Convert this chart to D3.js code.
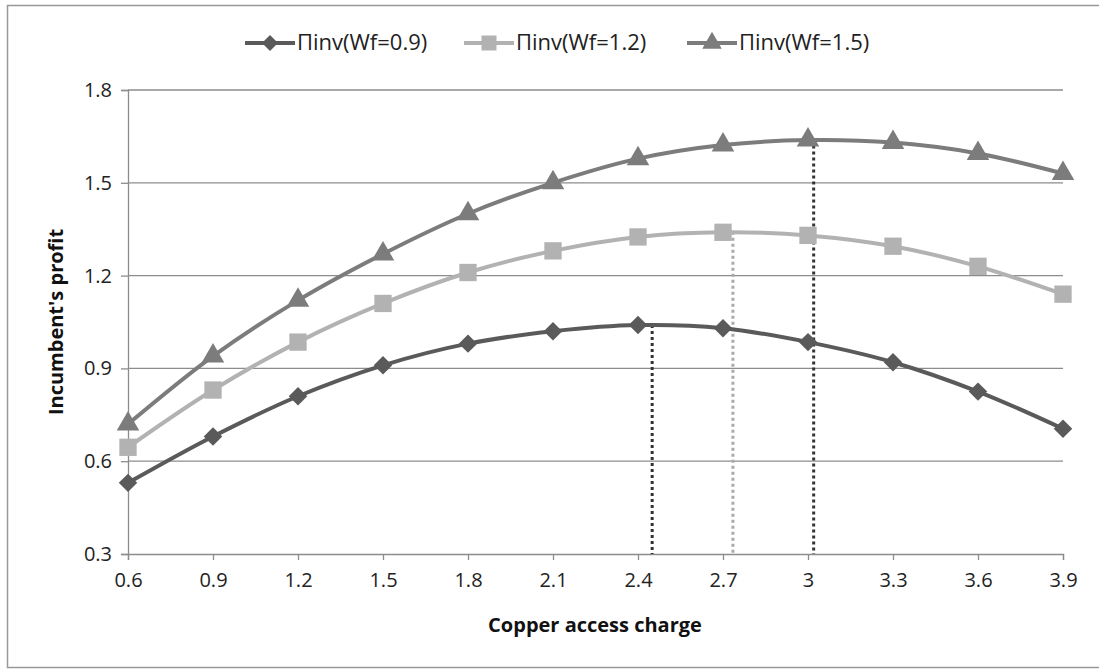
<!DOCTYPE html>
<html><head><meta charset="utf-8">
<script src="https://cdn.jsdelivr.net/npm/d3@7"></script>
<style>body{margin:0;background:#fff;} text{font-family:"Open Sans","Liberation Sans",sans-serif;}</style>
</head><body><svg id="c" width="1099" height="670"></svg>
<script>
const categories = [0.6,0.9,1.2,1.5,1.8,2.1,2.4,2.7,3,3.3,3.6,3.9];
const seriesNames = ["Пinv(Wf=0.9)","Пinv(Wf=1.2)","Пinv(Wf=1.5)"];
const wf09 = [0.53,0.68,0.81,0.91,0.98,1.02,1.04,1.03,0.985,0.92,0.825,0.705];
const wf12 = [0.645,0.83,0.985,1.11,1.21,1.28,1.325,1.34,1.33,1.295,1.23,1.14];
const wf15 = [0.72,0.94,1.12,1.27,1.40,1.50,1.578,1.622,1.638,1.63,1.595,1.53];
const optimaX = [2.45,2.735,3.02];
const optimaY = [1.04,1.342,1.64];
const yTicks = [0.3,0.6,0.9,1.2,1.5,1.8];

const svg = d3.select("#c");
svg.append("rect").attr("x",7.5).attr("y",5.5).attr("width",1100).attr("height",662)
  .attr("fill","#fff").attr("stroke","#999").attr("stroke-width",1.5);

const x = d3.scaleLinear().domain([0.6,3.9]).range([128,1063]);
const y = d3.scaleLinear().domain([0.3,1.8]).range([554,90]);

// gridlines
svg.append("g").selectAll("line").data(yTicks.slice(1)).join("line")
  .attr("x1",128).attr("x2",1063).attr("y1",d=>y(d)).attr("y2",d=>y(d))
  .attr("stroke","#8c8c8c").attr("stroke-width",1.3);

// y axis
const ya = svg.append("g").attr("transform","translate(128,0)")
  .call(d3.axisLeft(y).tickValues(yTicks).tickSize(7).tickPadding(9).tickFormat(d3.format(".1f")));
ya.select(".domain").attr("stroke","#8c8c8c").attr("stroke-width",1.3);
ya.selectAll(".tick line").attr("stroke","#8c8c8c").attr("stroke-width",1.3);
ya.selectAll("text").attr("font-size",20).attr("fill","#222");

// x axis
const xa = svg.append("g").attr("transform","translate(0,554)")
  .call(d3.axisBottom(x).tickValues(categories).tickSize(6).tickPadding(13).tickFormat(d=>String(d)));
xa.select(".domain").attr("stroke","#8c8c8c").attr("stroke-width",1.3);
xa.selectAll(".tick line").attr("stroke","#8c8c8c").attr("stroke-width",1.3);
xa.selectAll("text").attr("font-size",20).attr("fill","#222");

// dotted optimum lines
const dotColors = ["#333","#aaa","#333"];
svg.append("g").selectAll("line").data(optimaX).join("line")
  .attr("x1",d=>x(d)).attr("x2",d=>x(d)).attr("y1",(d,i)=>y(optimaY[i])).attr("y2",y(0.3))
  .attr("stroke",(d,i)=>dotColors[i]).attr("stroke-width",3).attr("stroke-dasharray","3,3");

const series = [
  {name:seriesNames[0], vals:wf09, color:"#5a5a5a", sym:d3.symbolSquare, size:170, rot:45},
  {name:seriesNames[1], vals:wf12, color:"#b2b2b2", sym:d3.symbolSquare, size:300, rot:0},
  {name:seriesNames[2], vals:wf15, color:"#7c7c7c", sym:d3.symbolTriangle, size:220, rot:0}
];
const line = d3.line().x((d,i)=>x(categories[i])).y(d=>y(d)).curve(d3.curveCatmullRom.alpha(0.5));
series.forEach(s=>{
  svg.append("path").attr("d",line(s.vals)).attr("fill","none").attr("stroke",s.color).attr("stroke-width",4);
  svg.append("g").selectAll("path").data(s.vals).join("path")
    .attr("d",d3.symbol().type(s.sym).size(s.size))
    .attr("transform",(d,i)=>`translate(${x(categories[i])},${y(d)}) rotate(${s.rot})`)
    .attr("fill",s.color);
});

// legend
const legX = [245,464,687];
series.forEach((s,i)=>{
  const g = svg.append("g").attr("transform",`translate(${legX[i]},43)`);
  g.append("line").attr("x1",0).attr("x2",50).attr("stroke",s.color).attr("stroke-width",4);
  g.append("path").attr("d",d3.symbol().type(s.sym).size(s.size*0.75)).attr("transform",`translate(25,0) rotate(${s.rot})`).attr("fill",s.color);
  g.append("text").attr("x",52).attr("y",7).attr("font-size",22).attr("fill","#222").text(s.name);
});

// axis titles
svg.append("text").attr("x",595).attr("y",632).attr("text-anchor","middle")
  .attr("font-size",20).attr("font-weight","bold").attr("fill","#111").text("Copper access charge");
svg.append("text").attr("transform","translate(63,322) rotate(-90)").attr("text-anchor","middle")
  .attr("font-size",20).attr("font-weight","bold").attr("fill","#111").text("Incumbent's profit");
</script></body></html>
